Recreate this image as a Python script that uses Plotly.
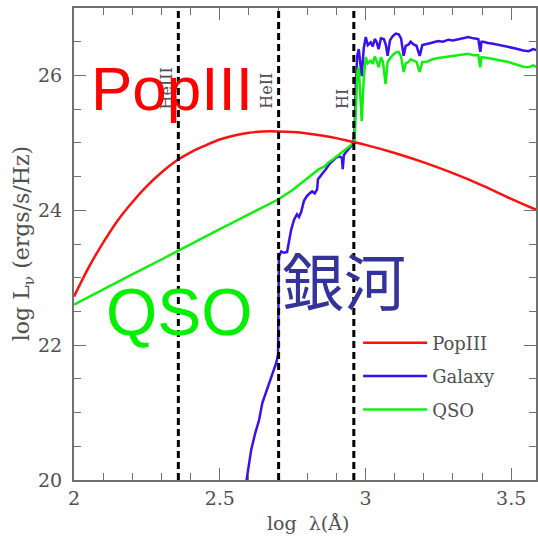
import plotly.graph_objects as go

# ---------------- data ----------------
popIII_x = [2.0, 2.05, 2.1, 2.15, 2.2, 2.25, 2.3, 2.35, 2.4, 2.45, 2.5, 2.55, 2.6, 2.65,
            2.7, 2.75, 2.8, 2.85, 2.9, 2.95, 3.0, 3.1, 3.2, 3.3, 3.4, 3.5, 3.6]
popIII_y = [22.72, 23.15, 23.52, 23.85, 24.12, 24.36, 24.56, 24.73, 24.86, 24.96, 25.05, 25.11,
            25.15, 25.17, 25.17, 25.16, 25.14, 25.11, 25.07, 25.02, 24.97, 24.85, 24.71, 24.55,
            24.37, 24.17, 23.98]

galaxy_x = [2.585, 2.608, 2.622, 2.635, 2.646, 2.670, 2.694, 2.700, 2.703, 2.711, 2.72, 2.731,
            2.745, 2.755, 2.765, 2.772, 2.779, 2.789, 2.799, 2.808, 2.817, 2.826, 2.834, 2.837,
            2.847, 2.855, 2.864, 2.872, 2.881, 2.89, 2.899, 2.91, 2.919, 2.922, 2.926, 2.933,
            2.942, 2.950, 2.957, 2.962, 2.967, 2.972, 2.977, 2.982, 2.987, 2.994, 3.001, 3.008,
            3.018, 3.025, 3.032, 3.038, 3.045, 3.053, 3.063, 3.07, 3.076, 3.084, 3.093, 3.104,
            3.114, 3.122, 3.131, 3.138, 3.148, 3.155, 3.165, 3.175, 3.186, 3.195, 3.209, 3.225,
            3.24, 3.25, 3.265, 3.285, 3.3, 3.319, 3.335, 3.353, 3.37, 3.387, 3.394, 3.398, 3.404,
            3.42, 3.438, 3.46, 3.49, 3.515, 3.541, 3.56, 3.575, 3.59]
galaxy_y = [19.8, 20.45, 20.7, 20.89, 21.14, 21.44, 21.74, 21.86, 23.31, 23.39, 23.37, 23.38,
            23.71, 23.86, 23.94, 23.9, 23.97, 24.14, 24.21, 24.25, 24.28, 24.25, 24.31, 24.46,
            24.51, 24.55, 24.61, 24.66, 24.71, 24.74, 24.78, 24.8, 24.78, 24.61, 24.82, 24.86,
            24.9, 24.95, 25.0, 25.1, 25.9, 26.3, 26.39, 26.2, 25.99, 26.4, 26.57, 26.45,
            26.49, 26.43, 26.54, 26.5, 26.39, 26.55, 26.54, 26.45, 26.29, 26.52, 26.58, 26.62,
            26.61, 26.55, 26.29, 26.44, 26.46, 26.5, 26.46, 26.44, 26.29, 26.45, 26.46, 26.48,
            26.5, 26.51, 26.5, 26.53, 26.52, 26.54, 26.55, 26.57, 26.55, 26.54, 26.35, 26.5, 26.5,
            26.48, 26.47, 26.45, 26.43, 26.4, 26.37, 26.36, 26.39, 26.37]

qso_x = [2.0, 2.1, 2.2, 2.3, 2.4, 2.5, 2.6, 2.7, 2.75, 2.8, 2.82, 2.84, 2.86, 2.87, 2.89, 2.91,
         2.93, 2.95, 2.96, 2.963, 2.967, 2.972, 2.977, 2.982, 2.987, 2.994, 3.001, 3.008, 3.018,
         3.025, 3.032, 3.038, 3.045, 3.053, 3.06, 3.069, 3.076, 3.084, 3.093, 3.104, 3.114,
         3.122, 3.131, 3.138, 3.148, 3.155, 3.165, 3.175, 3.186, 3.195, 3.209, 3.23, 3.25,
         3.285, 3.319, 3.353, 3.37, 3.387, 3.394, 3.398, 3.42, 3.46, 3.49, 3.541, 3.56, 3.575, 3.59]
qso_y = [22.6, 22.83, 23.05, 23.27, 23.5, 23.72, 23.94, 24.16, 24.3, 24.47, 24.53, 24.61, 24.65,
         24.7, 24.76, 24.83, 24.9, 24.97, 25.0, 25.05, 25.6, 26.05, 26.12, 25.8, 25.32, 25.95,
         26.27, 26.18, 26.22, 26.17, 26.28, 26.22, 26.12, 26.27, 26.2, 25.87, 26.2, 26.25, 26.3,
         26.34, 26.35, 26.28, 26.05, 26.18, 26.2, 26.24, 26.22, 26.2, 26.05, 26.2, 26.2, 26.24,
         26.26, 26.28, 26.29, 26.32, 26.3, 26.3, 26.12, 26.27, 26.26, 26.23, 26.2, 26.13, 26.12,
         26.15, 26.12]

edge_x = [2.358, 2.702, 2.96]
edge_labels = ["HeIII", "HeII", "HI"]

x_ticks = [2, 2.5, 3, 3.5]
x_ticklabels = ["2", "2.5", "3", "3.5"]
y_ticks = [20, 22, 24, 26]
y_ticklabels = ["20", "22", "24", "26"]

series_names = ["PopIII", "Galaxy", "QSO"]

# ---------------- styling ----------------
RED = "#ff1010"
BLUE = "#3a10f0"
GREEN = "#10f010"
AX = "#707070"
TXT = "#505050"
SERIF = "DejaVu Serif"

fig = go.Figure()

fig.add_trace(go.Scatter(x=galaxy_x, y=galaxy_y, mode="lines", name=series_names[1],
                         line=dict(color=BLUE, width=2.5), legendrank=2, legendgroup="g"))
fig.add_trace(go.Scatter(x=qso_x, y=qso_y, mode="lines", name=series_names[2],
                         line=dict(color=GREEN, width=2.5), legendrank=3, legendgroup="q"))
fig.add_trace(go.Scatter(x=popIII_x, y=popIII_y, mode="lines", name=series_names[0],
                         line=dict(color=RED, width=2.5, shape="spline"), legendrank=1,
                         legendgroup="p"))

for ex, lab in zip(edge_x, edge_labels):
    fig.add_shape(type="line", xref="x", yref="paper", x0=ex, x1=ex, y0=0, y1=1,
                  line=dict(color="black", width=3, dash="7px,4px"))
    fig.add_annotation(x=ex, y=25.47, xref="x", yref="y", text=lab, showarrow=False,
                       textangle=-90, xanchor="center", yanchor="bottom", xshift=-12,
                       font=dict(family=SERIF, size=16, color=TXT))

# big overlay labels
fig.add_annotation(x=0.2112, y=0.8294, xref="paper", yref="paper", text="PopIII",
                   xanchor="center", yanchor="middle", showarrow=False,
                   font=dict(family="Liberation Sans, Arial", size=62, color="#ff0000"))
fig.add_annotation(x=0.2284, y=0.3549, xref="paper", yref="paper", text="QSO",
                   xanchor="center", yanchor="middle", showarrow=False,
                   font=dict(family="Liberation Sans, Arial", size=66, color="#00f000"))
fig.add_annotation(x=0.584, y=0.4248, xref="paper", yref="paper", text="銀河",
                   xanchor="center", yanchor="middle", showarrow=False,
                   font=dict(family="Noto Sans CJK JP", size=62, color="#333399"))

# axis titles
fig.add_annotation(x=-0.11, y=0.5, xref="paper", yref="paper",
                   text="log L<sub>ν</sub> (ergs/s/Hz)", textangle=-90, showarrow=False,
                   xanchor="center", yanchor="middle",
                   font=dict(family=SERIF, size=22, color=TXT))
fig.add_annotation(x=0.506, y=-0.0911, xref="paper", yref="paper",
                   text="log  λ(Å)", showarrow=False, xanchor="center", yanchor="middle",
                   font=dict(family=SERIF, size=19, color=TXT))

axis_common = dict(showgrid=False, zeroline=False, showline=True, linecolor=AX, linewidth=2,
                   mirror="ticks", ticks="inside", tickcolor=AX, tickwidth=1.2, ticklen=12,
                   tickfont=dict(family=SERIF, size=19, color=TXT))

fig.update_xaxes(range=[2, 3.585], tickvals=x_ticks, ticktext=x_ticklabels,
                 minor=dict(dtick=0.1, ticks="inside", ticklen=7, tickcolor=AX, tickwidth=1.2),
                 **axis_common)
fig.update_yaxes(range=[20, 27], tickvals=y_ticks, ticktext=y_ticklabels,
                 minor=dict(dtick=0.5, ticks="inside", ticklen=7, tickcolor=AX, tickwidth=1.2),
                 ticklabelstandoff=6, **axis_common)

fig.update_layout(
    width=538, height=538,
    margin=dict(l=74, r=0, t=8, b=58),
    paper_bgcolor="white", plot_bgcolor="white",
    showlegend=True,
    legend=dict(x=0.615, y=0.3295, xanchor="left", yanchor="top", bgcolor="rgba(0,0,0,0)",
                font=dict(family=SERIF, size=18, color=TXT), itemwidth=64,
                tracegroupgap=7, traceorder="grouped"),
)

fig.write_html("out.html")
